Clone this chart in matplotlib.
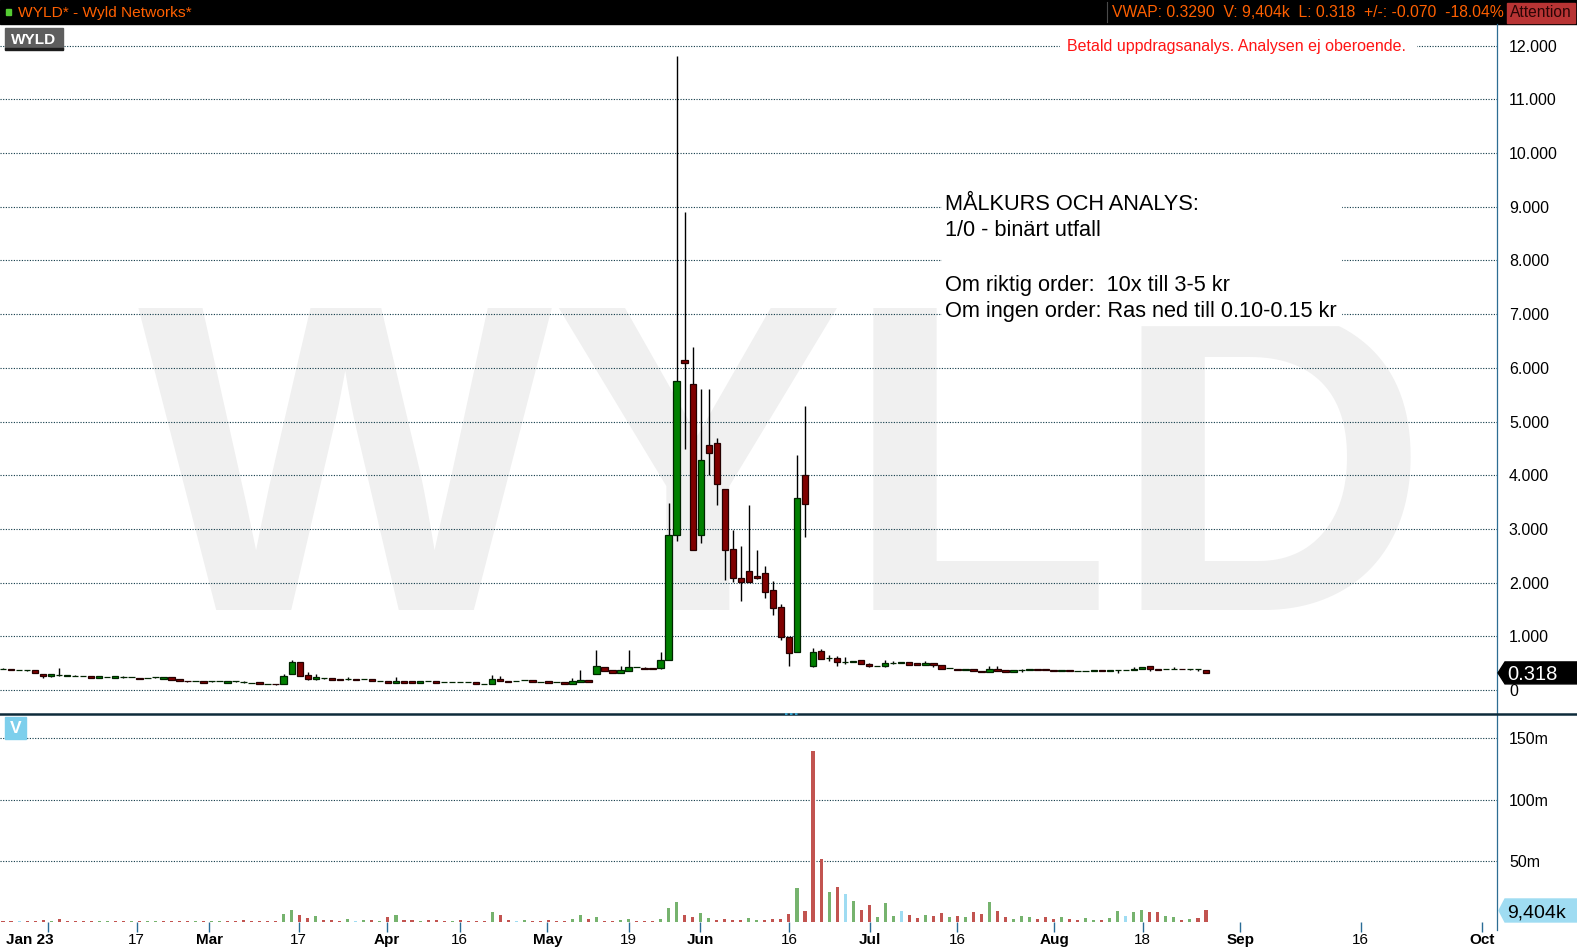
import matplotlib
matplotlib.use('Agg')
import matplotlib.pyplot as plt
from matplotlib.patches import Rectangle, Polygon
from matplotlib.transforms import ScaledTranslation
import numpy as np

plt.rcParams['font.family'] = ['Liberation Sans', 'DejaVu Sans']

W, H = 1577, 951

# ---------------- data ----------------
ticker = "WYLD"
title_text = "WYLD* - Wyld Networks*"
info_text = "VWAP: 0.3290  V: 9,404k  L: 0.318  +/-: -0.070  -18.04%"
attention_text = "Attention"
disclaimer = "Betald uppdragsanalys. Analysen ej oberoende."
note_lines = ["MÅLKURS OCH ANALYS:", "1/0 - binärt utfall", "",
              "Om riktig order:  10x till 3-5 kr",
              "Om ingen order: Ras ned till 0.10-0.15 kr"]

opens = [.40, .39, .37, .37, .37, .30, .255, .28, .26, .27,
         .255, .255, .23, .25, .23, .24, .236, .23, .23, .236,
         .21, .236, .205, .174, .16, .16, .16, .16, .137, .16,
         .15, .137, .143, .112, .11, .118, .29, .516, .28, .205,
         .224, .224, .205, .20, .20, .20, .205, .16, .16, .137,
         .16, .16, .137, .16, .16, .143, .143, .143, .143, .143,
         .118, .106, .20, .174, .168, .18, .18, .155, .16, .143,
         .143, .118, .15, .186, .29, .42, .38, .31, .36, .42,
         .416, .404, .404, .553, 2.88, 6.14, 5.70, 2.88, 4.56, 4.60,
         3.74, 2.62, 2.08, 2.22, 2.12, 2.17, 1.86, 1.54, .99, .70,
         4.00, .44, .72, .59, .59, .52, .52, .55, .485, .44,
         .44, .51, .50, .515, .50, .47, .50, .46, .41, .40,
         .38, .40, .36, .34, .40, .38, .34, .367, .367, .385,
         .385, .367, .348, .367, .348, .348, .348, .367, .348, .367,
         .367, .367, .398, .44, .398, .385, .385, .40, .385, .388,
         .367]
highs = [.41, .40, .37, .37, .37, .30, .30, .41, .28, .28,
         .26, .255, .255, .25, .255, .255, .236, .23, .23, .236,
         .236, .236, .205, .174, .16, .16, .17, .16, .16, .16,
         .167, .137, .143, .112, .11, .30, .56, .516, .33, .30,
         .224, .224, .205, .236, .20, .20, .205, .16, .16, .236,
         .16, .16, .16, .16, .16, .143, .143, .143, .143, .143,
         .118, .28, .255, .174, .168, .18, .18, .155, .16, .143,
         .143, .22, .37, .186, .746, .42, .38, .454, .746, .42,
         .43, .404, .70, 3.48, 11.8, 8.9, 6.39, 5.60, 5.60, 4.69,
         3.74, 2.98, 2.68, 3.45, 2.61, 2.31, 2.03, 1.60, .99, 4.38,
         5.29, .78, .76, .66, .63, .61, .535, .55, .50, .44,
         .56, .54, .515, .515, .50, .535, .50, .46, .41, .40,
         .40, .40, .36, .45, .45, .38, .367, .39, .385, .385,
         .385, .367, .367, .367, .348, .348, .367, .367, .367, .367,
         .367, .42, .42, .44, .398, .385, .42, .40, .40, .40,
         .367]
lows = [.39, .37, .37, .36, .31, .23, .25, .26, .255, .26,
        .255, .23, .23, .245, .23, .225, .236, .21, .23, .23,
        .21, .193, .174, .155, .16, .137, .14, .16, .137, .155,
        .13, .137, .118, .112, .10, .118, .29, .26, .18, .186,
        .205, .193, .18, .186, .18, .20, .16, .16, .13, .137,
        .137, .137, .137, .16, .13, .143, .143, .14, .143, .118,
        .112, .106, .174, .15, .168, .18, .155, .155, .137, .143,
        .118, .118, .15, .155, .29, .36, .31, .31, .36, .42,
        .39, .385, .39, .553, 2.78, 4.48, 2.60, 2.73, 4.00, 3.45,
        2.04, 2.01, 1.65, 2.01, 2.07, 1.71, 1.40, .94, .45, .70,
        2.84, .42, .57, .54, .45, .49, .52, .48, .43, .44,
        .42, .48, .50, .47, .47, .465, .42, .40, .41, .38,
        .38, .35, .335, .33, .36, .34, .34, .34, .367, .367,
        .367, .348, .348, .348, .348, .348, .348, .348, .348, .325,
        .367, .367, .398, .36, .367, .385, .385, .385, .367, .36,
        .31]
closes = [.40, .37, .37, .37, .31, .255, .30, .28, .28, .27,
          .255, .23, .255, .25, .255, .24, .236, .21, .23, .236,
          .236, .193, .174, .16, .16, .137, .16, .16, .16, .16,
          .15, .137, .118, .112, .105, .26, .516, .26, .20, .236,
          .224, .193, .18, .20, .18, .20, .16, .16, .13, .16,
          .137, .137, .16, .16, .13, .143, .143, .143, .143, .118,
          .118, .20, .174, .15, .168, .18, .155, .155, .137, .143,
          .118, .16, .186, .155, .447, .36, .31, .367, .42, .42,
          .398, .385, .553, 2.88, 5.75, 6.09, 2.61, 4.28, 4.42, 3.84,
          2.60, 2.09, 2.01, 2.02, 2.09, 1.82, 1.52, .98, .68, 3.57,
          3.47, .70, .57, .59, .52, .52, .535, .48, .44, .44,
          .50, .51, .515, .47, .47, .50, .46, .40, .41, .38,
          .40, .36, .335, .40, .36, .34, .367, .367, .385, .367,
          .367, .348, .367, .348, .348, .348, .367, .348, .367, .367,
          .367, .385, .42, .398, .367, .385, .40, .385, .385, .388,
          .318]

volumes_m = [.8, .8, .8, .8, 1.0, 1.6, .8, 2.2, .8, .8,
             .8, .8, .8, .8, .8, .8, .8, .8, .8, .8,
             .8, .8, .8, .8, .8, .8, .8, .8, .8, .8,
             1.6, .8, .8, .8, .8, 6.3, 9.8, 5.5, 3.0, 4.6,
             1.4, 1.4, .8, 2.2, .8, 1.4, 1.4, .8, 3.8, 5.5,
             1.4, 1.4, .8, 1.4, 1.4, .8, .8, 1.4, .8, .8,
             .8, 8.2, 5.5, 1.4, .8, 1.4, .8, .8, 1.4, .8,
             .8, 2.2, 5.5, 2.2, 4.0, .8, .8, 1.4, 2.2, .8,
             .8, .8, 2.2, 11.2, 16.2, 5.5, 3.8, 7.1, 3.0, 1.4,
             2.2, 1.4, 1.4, 3.0, 1.4, 1.4, 2.2, 2.2, 6.8, 27.5,
             8.9, 140.0, 51.6, 24.5, 28.6, 22.9, 17.0, 9.7, 13.8, 4.0,
             15.8, 4.8, 8.9, 5.6, 3.2, 5.6, 4.8, 7.3, 4.0, 4.8,
             4.0, 8.1, 6.4, 16.3, 8.9, 4.0, 2.3, 4.8, 4.0, 2.3,
             4.0, 2.3, 4.0, 2.3, 1.5, 3.2, 1.5, 1.5, 3.2, 8.9,
             4.8, 8.1, 9.7, 8.1, 8.1, 4.8, 4.0, 1.5, 2.3, 3.2,
             9.404]
# g = up, r = down, b = unchanged (close vs previous close)
volume_dir = ("rrbrrrgrrr" "rrggrrgrgg" "rrrrgrggrr" "rrrrrggrrg"
              "rrrgbgrgrg" "rrgrrrgrrr" "rgrrbgrrrr" "rggrgrrggr"
              "rrgggrrggr" "rrrggrrrrg" "rrrgrbgrrg" "ggbrrgrrgr"
              "grrgrrgggr" "rrgrrggrgg" "bggrrggrgr" "r")

price_ticks = [0, 1, 2, 3, 4, 5, 6, 7, 8, 9, 10, 11, 12]
price_tick_labels = ['0', '1.000', '2.000', '3.000', '4.000', '5.000', '6.000',
                     '7.000', '8.000', '9.000', '10.000', '11.000', '12.000']
vol_ticks_m = [50, 100, 150]
vol_tick_labels = ['50m', '100m', '150m']
date_labels = ['Jan 23', '17', 'Mar', '17', 'Apr', '16', 'May', '19', 'Jun', '16',
               'Jul', '16', 'Aug', '18', 'Sep', '16', 'Oct']
date_label_bold = [True, False, True, False, True, False, True, False, True, False,
                   True, False, True, False, True, False, True]
# tick positions in bar-index units
date_tick_pos = [5.67, 16.67, 25.71, 36.85, 47.84, 56.94, 67.88, 78.0, 86.97, 98.0,
                 108.1, 119.0, 131.1, 142.1, 154.3, 169.3, 184.4]
last_price = 0.318
last_price_text = "0.318"
last_volume_m = 9.404
last_volume_text = "9,404k"

# ---------------- layout ----------------
fig = plt.figure(figsize=(W / 100, H / 100), dpi=100)
fig.patch.set_facecolor('white')
renderer = fig.canvas.get_renderer()


def rect(x0, y0, x1, y1):
    return [x0 / W, 1 - y1 / H, (x1 - x0) / W, (y1 - y0) / H]


def fit(t, width):
    bb = t.get_window_extent(renderer)
    t.set_fontsize(t.get_fontsize() * width / bb.width)
    return t


AX_R = 1497
BAR_X0, BAR_DX = 3.0, 8.02
xlim = (-BAR_X0 / BAR_DX, (AX_R - BAR_X0) / BAR_DX)
P_TOP, P_BOT = 24, 714
V_TOP, V_BOT = 714, 922

ax_bg = fig.add_axes([0, 0, 1, 1], zorder=0)
ax_bg.set_xlim(0, W); ax_bg.set_ylim(H, 0); ax_bg.axis('off')

ax_p = fig.add_axes(rect(0, P_TOP, AX_R, P_BOT), zorder=1)
ax_v = fig.add_axes(rect(0, V_TOP, AX_R, V_BOT), zorder=1)
ax_o = fig.add_axes([0, 0, 1, 1], zorder=3)
ax_o.set_xlim(0, W); ax_o.set_ylim(H, 0); ax_o.axis('off')
for a in (ax_p, ax_v):
    a.patch.set_alpha(0)
    for s in a.spines.values():
        s.set_visible(False)
    a.set_axisbelow(True)

# watermark
wm = ax_bg.text(784, 610, ticker, fontsize=300, fontweight='bold',
                color='#f0f0f0', ha='center', va='baseline')
fit(wm, 1292)

GRID = dict(color='#0b3644', linestyle=(0, (1, 1.4)), linewidth=0.8)

# ---------------- price panel ----------------
x = np.arange(len(closes))
o, h, l, c = map(np.array, (opens, highs, lows, closes))
up = c >= o
ax_p.vlines(x, l, h, color='black', lw=1.0, zorder=2)
bb = np.minimum(o, c)
bh = np.abs(c - o)
ax_p.bar(x[up], bh[up], bottom=bb[up], width=0.8, color='#008000',
         edgecolor='#002400', linewidth=0.9, zorder=3)
ax_p.bar(x[~up], bh[~up], bottom=bb[~up], width=0.8, color='#800000',
         edgecolor='#260000', linewidth=0.9, zorder=3)
ax_p.set_xlim(*xlim)
ax_p.set_ylim((690 - P_BOT) / 53.7, (690 - P_TOP) / 53.7)
ax_p.yaxis.tick_right()
ax_p.set_yticks(price_ticks)
ax_p.set_yticklabels(price_tick_labels, fontsize=11.5)
ax_p.tick_params(axis='y', length=0, pad=8.6)
ax_p.tick_params(axis='x', bottom=False, labelbottom=False)
ax_p.grid(axis='y', **GRID)
ax_p.grid(axis='x', visible=False)

# ---------------- volume panel ----------------
cmap = {'g': '#76b36e', 'r': '#c25450', 'b': '#9fdcf2'}
vcols = [cmap[d] for d in volume_dir]
ax_v.bar(x, volumes_m, width=0.38, color=vcols, zorder=2)
ax_v.set_xlim(*xlim)
ax_v.set_ylim(0, (V_BOT - V_TOP) / 61.2 * 50)
ax_v.yaxis.tick_right()
ax_v.set_yticks(vol_ticks_m)
ax_v.set_yticklabels(vol_tick_labels, fontsize=11.5)
ax_v.tick_params(axis='y', length=0, pad=8.6)
ax_v.grid(axis='y', **GRID)
ax_v.set_xticks(date_tick_pos)
ax_v.set_xticklabels(date_labels, fontsize=11)
ax_v.tick_params(axis='x', direction='out', length=7, width=1,
                 color='#2a6c96', pad=1.0)
for lbl, b in zip(ax_v.get_xticklabels(), date_label_bold):
    lbl.set_fontweight('bold' if b else 'normal')
first = ax_v.get_xticklabels()[0]
first.set_transform(first.get_transform() +
                    ScaledTranslation(-18.5 / 100, 0, fig.dpi_scale_trans))

# ---------------- overlay ----------------
# top bar
ax_o.add_patch(Rectangle((0, 0), W, 24, color='black', zorder=1))
ax_o.add_patch(Rectangle((6, 9), 5, 6, color='#55cc33', zorder=2))
t = ax_o.text(18, 17.3, title_text, color='#ff6000', fontsize=11, va='baseline', zorder=2)
fit(t, 173)
t = ax_o.text(1112, 17.3, info_text, color='#ff6000', fontsize=11, va='baseline', zorder=2)
fit(t, 391)
ax_o.plot([1107, 1107], [2, 22], color='#4a4a4a', lw=0.8, zorder=2)
ax_o.add_patch(Rectangle((1507, 3), 68, 19.5, color='#b83434', zorder=2))
t = ax_o.text(1541, 17.3, attention_text, color='#2a0505', fontsize=11,
              ha='center', va='baseline', zorder=3)
fit(t, 61)

# right axis line and panel divider
ax_o.plot([AX_R, AX_R], [24, 930], color='#2d6d93', lw=0.9, zorder=2)
ax_o.plot([0, W], [714, 714], color='#0d2b3a', lw=1.8, zorder=2)
ax_o.plot([785, 800], [713.5, 713.5], color='#3ab4e4', lw=1.2,
          linestyle=(0, (1.5, 1.5)), zorder=3)

# ticker box
ax_o.add_patch(Rectangle((5, 28), 58, 21, color='#5e5e5e', zorder=2))
ax_o.add_patch(Rectangle((5, 47.5), 58, 2, color='#1c1c1c', zorder=2))
t = ax_o.text(34, 43.5, ticker, color='white', fontweight='bold', fontsize=11,
              ha='center', va='baseline', zorder=3)
fit(t, 45)

# volume label box
ax_o.add_patch(Rectangle((5, 717), 20.5, 21.5, color='#7dcfec', zorder=2))
ax_o.text(15.3, 733.3, 'V', color='white', fontweight='bold', fontsize=12.5,
          ha='center', va='baseline', zorder=3)

# disclaimer
ax_o.add_patch(Rectangle((1060, 36), 356, 19, color='white', zorder=2))
t = ax_o.text(1067, 50.5, disclaimer, color='#ff1414', fontsize=12, va='baseline', zorder=3)
fit(t, 341)

# annotation
ax_o.add_patch(Rectangle((942, 189), 1341 - 942, 325 - 189, color='white', zorder=2))
baselines = [209.5, 236.5, 263.5, 290.5, 317.5]
t0 = ax_o.text(945, baselines[0], note_lines[0], color='black', fontsize=15.5,
               va='baseline', zorder=3)
fit(t0, 254)
fs = t0.get_fontsize()
for line, yb in zip(note_lines[1:], baselines[1:]):
    if line:
        ax_o.text(945, yb, line, color='black', fontsize=fs, va='baseline', zorder=3)

# last price tag
py = H - ax_p.transData.transform((0, last_price))[1]
ax_o.add_patch(Polygon([(1498, py), (1505, py - 11), (W, py - 11), (W, py + 11),
                        (1505, py + 11)], closed=True, color='black', zorder=4))
ax_o.text(1507, py + 7, last_price_text, color='white', fontsize=14.5,
          va='baseline', zorder=5)

# last volume tag
vy = H - ax_v.transData.transform((0, last_volume_m))[1]
ax_o.add_patch(Polygon([(1499, vy), (1505, vy - 11.5), (W, vy - 11.5), (W, vy + 11.5),
                        (1505, vy + 11.5)], closed=True, color='#9fdcf2', zorder=4))
ax_o.text(1507, vy + 7, last_volume_text, color='black', fontsize=14,
          va='baseline', zorder=5)

fig.savefig('out.png', dpi=100)
